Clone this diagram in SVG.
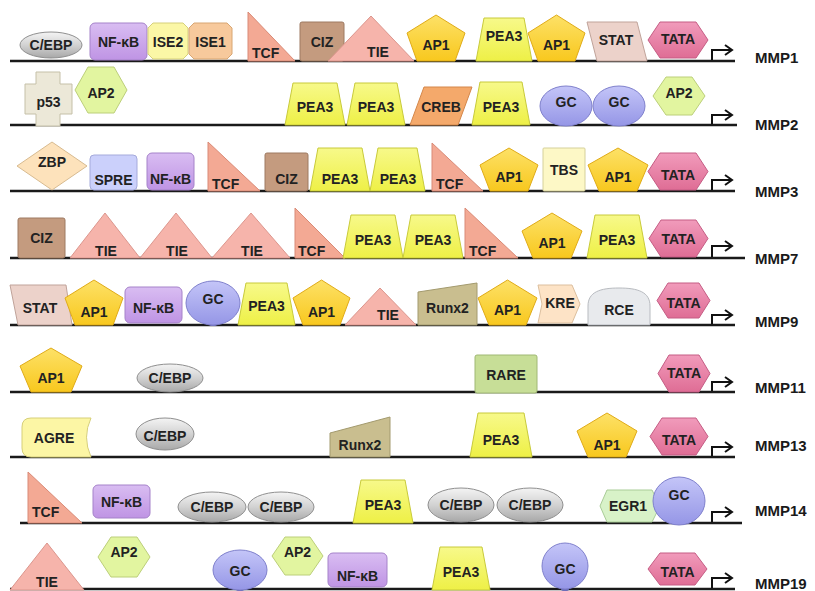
<svg xmlns="http://www.w3.org/2000/svg" width="815" height="591" viewBox="0 0 815 591">
<defs>
<linearGradient id="gGray" x1="0" y1="0" x2="0" y2="1"><stop offset="0" stop-color="#f4f4f4"/><stop offset="0.5" stop-color="#d2d2d2"/><stop offset="1" stop-color="#a8a8a8"/></linearGradient>
<linearGradient id="gGC" x1="0" y1="0" x2="0" y2="1"><stop offset="0" stop-color="#c4c5f8"/><stop offset="1" stop-color="#9596e6"/></linearGradient>
<linearGradient id="gAP1" x1="0" y1="0" x2="0" y2="1"><stop offset="0" stop-color="#fde167"/><stop offset="1" stop-color="#f8c81e"/></linearGradient>
<linearGradient id="gPEA3" x1="0" y1="0" x2="0" y2="1"><stop offset="0" stop-color="#f7f98a"/><stop offset="1" stop-color="#eef046"/></linearGradient>
<linearGradient id="gTATA" x1="0" y1="0" x2="0" y2="1"><stop offset="0" stop-color="#f19bbb"/><stop offset="1" stop-color="#df6d95"/></linearGradient>
<linearGradient id="gNF" x1="0" y1="0" x2="0" y2="1"><stop offset="0" stop-color="#d9bdf2"/><stop offset="1" stop-color="#bf94e4"/></linearGradient>
</defs>
<style>
text{font-family:"Liberation Sans",Arial,sans-serif;font-weight:bold;font-size:14px;fill:#222;text-anchor:middle}
text.l{text-anchor:start}
text.lbl{font-size:15px;text-anchor:start;fill:#1a1a1a}
.dna{stroke:#1a1a1a;stroke-width:2.5}
.arr{fill:none;stroke:#111;stroke-width:2}
.cebp{fill:url(#gGray);stroke:#8f8f8f;stroke-width:1}
.nf{fill:url(#gNF);stroke:#a582c9;stroke-width:1}
.ise2{fill:#fbf7a6;stroke:#d6d07a;stroke-width:1}
.ise1{fill:#f7c99c;stroke:#d8a673;stroke-width:1}
.tcf{fill:#f3a994;stroke:#d98a76;stroke-width:1}
.ciz{fill:#c49b7f;stroke:#9e7a62;stroke-width:1}
.tie{fill:#f6b4ab;stroke:#dc968d;stroke-width:1}
.ap1{fill:url(#gAP1);stroke:#e0ab18;stroke-width:1}
.pea3{fill:url(#gPEA3);stroke:#c8ca3a;stroke-width:1}
.stat{fill:#ecd2ca;stroke:#c0a39a;stroke-width:1}
.tata{fill:url(#gTATA);stroke:#c55d84;stroke-width:1}
.p53{fill:#ece8d8;stroke:#c5c0a8;stroke-width:1}
.ap2{fill:#e2f5a0;stroke:#bccf7a;stroke-width:1}
.creb{fill:#f4a96b;stroke:#d4874a;stroke-width:1}
.gc{fill:url(#gGC);stroke:#7f80cc;stroke-width:1}
.stub{fill:#6c6db8}
.zbp{fill:#fde2bb;stroke:#d8bb90;stroke-width:1}
.spre{fill:#cbd0fb;stroke:#a5aadb;stroke-width:1}
.tbs{fill:#fdf8c6;stroke:#d5d09a;stroke-width:1}
.runx{fill:#c9be8f;stroke:#a39a6e;stroke-width:1}
.kre{fill:#fde3c6;stroke:#dcbf9e;stroke-width:1}
.rce{fill:#e8eaed;stroke:#b8bbc0;stroke-width:1}
.rare{fill:#c7de97;stroke:#a0b874;stroke-width:1}
.agre{fill:#fcf6a5;stroke:#d6cf78;stroke-width:1}
.egr{fill:#d8f2c8;stroke:#a9cc97;stroke-width:1}
</style>
<rect width="815" height="591" fill="#ffffff"/>

<g id="connectors">
<line class="dna" x1="10" y1="61" x2="735" y2="61"/>
<line class="dna" x1="10" y1="125" x2="737" y2="125"/>
<line class="dna" x1="10" y1="191" x2="735" y2="191"/>
<line class="dna" x1="10" y1="258" x2="745" y2="258"/>
<line class="dna" x1="10" y1="325" x2="735" y2="325"/>
<line class="dna" x1="10" y1="392" x2="735" y2="392"/>
<line class="dna" x1="10" y1="457" x2="735" y2="457"/>
<line class="dna" x1="20" y1="523" x2="742" y2="523"/>
<line class="dna" x1="10" y1="589" x2="735" y2="589"/>
<path class="arr" d="M712,60 V50 H732 M725,45 L732,50 L725,55"/>
<path class="arr" d="M712,124 V115 H732 M725,110 L732,115 L725,120"/>
<path class="arr" d="M712,190 V180 H732 M725,175 L732,180 L725,185"/>
<path class="arr" d="M712,257 V246 H732 M725,241 L732,246 L725,251"/>
<path class="arr" d="M712,324 V315 H732 M725,310 L732,315 L725,320"/>
<path class="arr" d="M712,391 V382 H732 M725,377 L732,382 L725,387"/>
<path class="arr" d="M712,456 V447 H732 M725,442 L732,447 L725,452"/>
<path class="arr" d="M712,522 V512 H732 M725,507 L732,512 L725,517"/>
<path class="arr" d="M712,588 V578 H732 M725,573 L732,578 L725,583"/>
</g>

<g id="labels">
<text class="lbl" x="755" y="63">MMP1</text>
<text class="lbl" x="755" y="130">MMP2</text>
<text class="lbl" x="755" y="197">MMP3</text>
<text class="lbl" x="755" y="264">MMP7</text>
<text class="lbl" x="755" y="327">MMP9</text>
<text class="lbl" x="755" y="393">MMP11</text>
<text class="lbl" x="755" y="451">MMP13</text>
<text class="lbl" x="755" y="516">MMP14</text>
<text class="lbl" x="755" y="589">MMP19</text>
</g>

<!-- Row 1 MMP1 -->
<g id="mmp1-cebp"><ellipse class="cebp" cx="51" cy="45" rx="31" ry="13"/><text x="51" y="50">C/EBP</text></g>
<g id="mmp1-nfkb"><rect class="nf" x="90" y="23" width="57" height="37" rx="5"/><text x="118.5" y="47">NF-κB</text></g>
<g id="mmp1-ise2"><polygon class="ise2" points="153,23 183,23 188,28 188,54 183,59 153,59 148,54 148,28"/><text x="168" y="47">ISE2</text></g>
<g id="mmp1-ise1"><polygon class="ise1" points="194,23 227,23 232,28 232,54 227,59 194,59 189,54 189,28"/><text x="210.5" y="47">ISE1</text></g>
<g id="mmp1-tcf"><polygon class="tcf" points="248,12 295,61 248,61"/><text class="l" x="252" y="58">TCF</text></g>
<g id="mmp1-ciz"><rect class="ciz" x="300" y="22" width="44" height="39" rx="2"/><text x="322" y="47">CIZ</text></g>
<g id="mmp1-tie"><polygon class="tie" points="328,61 371,16 414,61"/><text x="378" y="57">TIE</text></g>
<g id="mmp1-ap1a"><polygon class="ap1" points="436,15 465,33 455,61 417,61 407,33"/><text x="436" y="50">AP1</text></g>
<g id="mmp1-pea3"><polygon class="pea3" points="476,61 484,18 524,18 532,61"/><text x="504" y="41">PEA3</text></g>
<g id="mmp1-ap1b"><polygon class="ap1" points="556.5,15 585,33 575,61 538,61 528,33"/><text x="556.5" y="50">AP1</text></g>
<g id="mmp1-stat"><polygon class="stat" points="587,22 637,22 647,61 597,61"/><text x="616" y="45">STAT</text></g>
<g id="mmp1-tata"><polygon class="tata" points="648,40 660,22 696,22 708,40 696,58 660,58"/><text x="678" y="44">TATA</text></g>

<!-- Row 2 MMP2 -->
<g id="mmp2-p53"><polygon class="p53" points="36,72 60,72 60,84 72,84 72,114 60,114 60,126 36,126 36,114 25,114 25,84 36,84"/><text x="48.5" y="107">p53</text></g>
<g id="mmp2-ap2a"><polygon class="ap2" points="75,90 88,67 114,67 127,90 114,113 88,113"/><text x="101" y="98">AP2</text></g>
<g id="mmp2-pea3a"><polygon class="pea3" points="285,125 293,83 337,83 345,125"/><text x="315" y="112">PEA3</text></g>
<g id="mmp2-pea3b"><polygon class="pea3" points="347,125 355,83 397,83 405,125"/><text x="376" y="112">PEA3</text></g>
<g id="mmp2-creb"><polygon class="creb" points="424,87 472,87 458,125 410,125"/><text x="441" y="112">CREB</text></g>
<g id="mmp2-pea3c"><polygon class="pea3" points="472,125 480,82 522,82 530,125"/><text x="501" y="112">PEA3</text></g>
<g id="mmp2-gca"><rect class="stub" x="562" y="122" width="8" height="4" rx="2"/><ellipse class="gc" cx="566" cy="106" rx="26" ry="20"/><text x="566" y="107">GC</text></g>
<g id="mmp2-gcb"><rect class="stub" x="615" y="122" width="8" height="4" rx="2"/><ellipse class="gc" cx="619" cy="106" rx="26" ry="20"/><text x="619" y="107">GC</text></g>
<g id="mmp2-ap2b"><polygon class="ap2" points="653,96 666,77 692,77 705,96 692,115 666,115"/><text x="679" y="98">AP2</text></g>

<!-- Row 3 MMP3 -->
<g id="mmp3-zbp"><polygon class="zbp" points="52,142 87,166 52,190 17,166"/><text x="52" y="167">ZBP</text></g>
<g id="mmp3-spre"><rect class="spre" x="90" y="155" width="47" height="35" rx="4"/><text x="113.5" y="185">SPRE</text></g>
<g id="mmp3-nfkb"><rect class="nf" x="147" y="153" width="47" height="37" rx="5"/><text x="170.5" y="184">NF-κB</text></g>
<g id="mmp3-tcfa"><polygon class="tcf" points="208,142 260,191 208,191"/><text class="l" x="212" y="189">TCF</text></g>
<g id="mmp3-ciz"><rect class="ciz" x="265" y="153" width="43" height="38" rx="2"/><text x="286.5" y="184">CIZ</text></g>
<g id="mmp3-pea3a"><polygon class="pea3" points="310,191 318,148 362,148 370,191"/><text x="340" y="184">PEA3</text></g>
<g id="mmp3-pea3b"><polygon class="pea3" points="370,191 378,148 417,148 425,191"/><text x="398" y="184">PEA3</text></g>
<g id="mmp3-tcfb"><polygon class="tcf" points="432,143 483,191 432,191"/><text class="l" x="436" y="189">TCF</text></g>
<g id="mmp3-ap1a"><polygon class="ap1" points="509,148 538,165 528,191 490,191 480,165"/><text x="509" y="182">AP1</text></g>
<g id="mmp3-tbs"><rect class="tbs" x="543" y="148" width="42" height="43" rx="1"/><text x="564" y="175">TBS</text></g>
<g id="mmp3-ap1b"><polygon class="ap1" points="618,148 648,165 637,191 599,191 588,165"/><text x="618" y="182">AP1</text></g>
<g id="mmp3-tata"><polygon class="tata" points="648,171.5 660,153 696,153 708,171.5 696,190 660,190"/><text x="678" y="180">TATA</text></g>

<!-- Row 4 MMP7 -->
<g id="mmp7-ciz"><rect class="ciz" x="18" y="218" width="47" height="40" rx="2"/><text x="41.5" y="243">CIZ</text></g>
<g id="mmp7-tiea"><polygon class="tie" points="70,258 105,213 140,258"/><text x="106" y="256">TIE</text></g>
<g id="mmp7-tieb"><polygon class="tie" points="140,258 176,213 212,258"/><text x="177" y="256">TIE</text></g>
<g id="mmp7-tiec"><polygon class="tie" points="212,258 251,213 290,258"/><text x="252" y="256">TIE</text></g>
<g id="mmp7-tcfa"><polygon class="tcf" points="295,208 345,258 295,258"/><text class="l" x="298" y="256">TCF</text></g>
<g id="mmp7-pea3a"><polygon class="pea3" points="343,258 351,215 395,215 403,258"/><text x="373" y="245">PEA3</text></g>
<g id="mmp7-pea3b"><polygon class="pea3" points="403,258 411,215 455,215 463,258"/><text x="433" y="245">PEA3</text></g>
<g id="mmp7-tcfb"><polygon class="tcf" points="465,208 518,258 465,258"/><text class="l" x="469" y="256">TCF</text></g>
<g id="mmp7-ap1"><polygon class="ap1" points="552,213 582,231 571,258 533,258 522,231"/><text x="552" y="248">AP1</text></g>
<g id="mmp7-pea3c"><polygon class="pea3" points="587,258 595,215 639,215 647,258"/><text x="617" y="245">PEA3</text></g>
<g id="mmp7-tata"><polygon class="tata" points="649,238.5 661,220 696,220 708,238.5 696,257 661,257"/><text x="678.5" y="244">TATA</text></g>

<!-- Row 5 MMP9 -->
<g id="mmp9-stat"><polygon class="stat" points="10,285 66,285 72,325 18,325"/><text x="40" y="313">STAT</text></g>
<g id="mmp9-ap1a"><polygon class="ap1" points="94,280 123,298 113,325 75,325 65,298"/><text x="94" y="317">AP1</text></g>
<g id="mmp9-nfkb"><rect class="nf" x="125" y="287" width="57" height="36" rx="5"/><text x="153.5" y="313">NF-κB</text></g>
<g id="mmp9-gc"><rect class="stub" x="209" y="322" width="8" height="4" rx="2"/><ellipse class="gc" cx="213" cy="303" rx="27" ry="22"/><text x="213" y="304">GC</text></g>
<g id="mmp9-pea3"><polygon class="pea3" points="238,325 246,283 287,283 295,325"/><text x="266.5" y="311">PEA3</text></g>
<g id="mmp9-ap1b"><polygon class="ap1" points="321.5,280 350,298 340,325 303,325 293,298"/><text x="321.5" y="317">AP1</text></g>
<g id="mmp9-tie"><polygon class="tie" points="345,325 380,288 416,325"/><text x="388" y="320">TIE</text></g>
<g id="mmp9-runx2"><polygon class="runx" points="418,325 418,292 477,283 477,325"/><text x="447.5" y="313">Runx2</text></g>
<g id="mmp9-ap1c"><polygon class="ap1" points="507.5,280 537,298 526,325 489,325 478,298"/><text x="507.5" y="315">AP1</text></g>
<g id="mmp9-kre"><polygon class="kre" points="538,285 572,285 580,304 572,323 538,323 542,304"/><text x="560" y="308">KRE</text></g>
<g id="mmp9-rce"><path class="rce" d="M588,325 V306 C588,292 600,288 619,288 C638,288 650,292 650,306 V325 Z"/><text x="619" y="315">RCE</text></g>
<g id="mmp9-tata"><polygon class="tata" points="657,300.5 668,283 699,283 710,300.5 699,318 668,318"/><text x="683.5" y="308">TATA</text></g>

<!-- Row 6 MMP11 -->
<g id="mmp11-ap1"><polygon class="ap1" points="51,348 82,366 71,392 31,392 20,366"/><text x="51" y="383">AP1</text></g>
<g id="mmp11-cebp"><ellipse class="cebp" cx="170" cy="378" rx="33" ry="14"/><text x="170" y="383">C/EBP</text></g>
<g id="mmp11-rare"><rect class="rare" x="475" y="355" width="62" height="38" rx="2"/><text x="506" y="380">RARE</text></g>
<g id="mmp11-tata"><polygon class="tata" points="658,373.5 669,355 699,355 710,373.5 699,392 669,392"/><text x="684" y="378">TATA</text></g>

<!-- Row 7 MMP13 -->
<g id="mmp13-agre"><path class="agre" d="M31,418 H91 Q82,437 91,457 H31 Q22,457 22,448 V427 Q22,418 31,418 Z"/><text x="54" y="443">AGRE</text></g>
<g id="mmp13-cebp"><ellipse class="cebp" cx="165" cy="434" rx="29" ry="16"/><text x="165" y="441">C/EBP</text></g>
<g id="mmp13-runx2"><polygon class="runx" points="330,457 330,433 390,417 390,457"/><text x="360" y="450">Runx2</text></g>
<g id="mmp13-pea3"><polygon class="pea3" points="470,457 478,413 524,413 532,457"/><text x="501" y="445">PEA3</text></g>
<g id="mmp13-ap1"><polygon class="ap1" points="607,413 637,431 626,457 588,457 577,431"/><text x="607" y="450">AP1</text></g>
<g id="mmp13-tata"><polygon class="tata" points="650,436.5 662,418 696,418 708,436.5 696,455 662,455"/><text x="679" y="445">TATA</text></g>

<!-- Row 8 MMP14 -->
<g id="mmp14-tcf"><polygon class="tcf" points="28,472 82,523 28,523"/><text class="l" x="32" y="517">TCF</text></g>
<g id="mmp14-nfkb"><rect class="nf" x="93" y="485" width="57" height="33" rx="5"/><text x="121.5" y="507">NF-κB</text></g>
<g id="mmp14-cebpa"><ellipse class="cebp" cx="212" cy="507" rx="34" ry="15"/><text x="212" y="512">C/EBP</text></g>
<g id="mmp14-cebpb"><ellipse class="cebp" cx="281" cy="507" rx="33" ry="15"/><text x="281" y="512">C/EBP</text></g>
<g id="mmp14-pea3"><polygon class="pea3" points="353,523 361,480 405,480 413,523"/><text x="383" y="510">PEA3</text></g>
<g id="mmp14-cebpc"><ellipse class="cebp" cx="461" cy="505" rx="33" ry="17"/><text x="461" y="510">C/EBP</text></g>
<g id="mmp14-cebpd"><ellipse class="cebp" cx="530" cy="505" rx="33" ry="17"/><text x="530" y="510">C/EBP</text></g>
<g id="mmp14-egr1"><polygon class="egr" points="607,490 652,490 660,506 652,522 607,522 600,506"/><text x="628" y="511">EGR1</text></g>
<g id="mmp14-gc"><rect class="stub" x="675" y="520" width="8" height="4" rx="2"/><ellipse class="gc" cx="679" cy="501" rx="26" ry="24"/><text x="679" y="500">GC</text></g>

<!-- Row 9 MMP19 -->
<g id="mmp19-tie"><polygon class="tie" points="10,590 47,543 84,590"/><text x="47" y="587">TIE</text></g>
<g id="mmp19-ap2a"><polygon class="ap2" points="98,557 111,537 137,537 150,557 137,577 111,577"/><text x="124" y="557">AP2</text></g>
<g id="mmp19-gca"><rect class="stub" x="236" y="587" width="8" height="4" rx="2"/><ellipse class="gc" cx="240" cy="570" rx="27" ry="20"/><text x="240" y="576">GC</text></g>
<g id="mmp19-ap2b"><polygon class="ap2" points="272,556 285,537 310,537 323,556 310,575 285,575"/><text x="297.5" y="557">AP2</text></g>
<g id="mmp19-nfkb"><rect class="nf" x="328" y="553" width="59" height="34" rx="5"/><text x="357.5" y="581">NF-κB</text></g>
<g id="mmp19-pea3"><polygon class="pea3" points="432,590 440,547 482,547 490,590"/><text x="461" y="577">PEA3</text></g>
<g id="mmp19-gcb"><rect class="stub" x="561" y="587" width="8" height="4" rx="2"/><ellipse class="gc" cx="565" cy="566" rx="23" ry="23"/><text x="565" y="574">GC</text></g>
<g id="mmp19-tata"><polygon class="tata" points="648,569 660,553 695,553 707,569 695,585 660,585"/><text x="677.5" y="577">TATA</text></g>
</svg>
